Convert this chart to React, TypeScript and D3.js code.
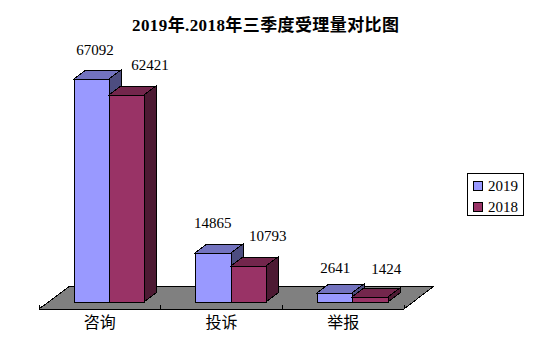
import React from "react";
import * as d3 from "d3";

const title = "2019年.2018年三季度受理量对比图";
const categories = ["咨询", "投诉", "举报"];
const seriesNames = ["2019", "2018"];
const values2019 = [67092, 14865, 2641];
const values2018 = [62421, 10793, 1424];
const seriesValues = [values2019, values2018];

const W = 533, H = 352;
const baseY = 302, frontY = 309, backY = 286;
const floorL = 39, floorR = 404, skew = 30;
const dx = 12, dy = 9, barW = 35.3, barInset = 34.7;
const fills = [
  { front: "#9999FF", top: "#7373BF", side: "#4D4D80" },
  { front: "#993366", top: "#73264C", side: "#4D1A33" },
];
const serif = "'Liberation Serif','Noto Sans CJK SC',serif";
const cjk = "'Noto Sans CJK SC','Liberation Serif',serif";
// label centre relative to each group's start, and baseline relative to each bar's top
const labelDX = [[56, 111], [52, 107], [53, 104]];
const labelDY = [[-24, -25], [-25, -25], [-20, -23]];

export default function App() {
  const x = d3.scaleBand<string>().domain(categories).range([floorL, floorR]);
  const y = d3.scaleLinear().domain([0, 67092]).range([baseY, 79]);
  const floor = d3.line()([
    [floorL, frontY], [floorR, frontY], [floorR + skew, backY], [floorL + skew + 1, backY],
  ]) + "Z";
  return (
    <svg width={W} height={H} style={{ position: "absolute", left: 0, top: 0, background: "#fff" }}>
      <text x={132} y={31} textLength={267} lengthAdjust="spacing" fontSize={17} fontWeight="bold" fontFamily={serif} fill="#000">{title}</text>
      <g shapeRendering="crispEdges">
        <path d={floor} fill="#808080" stroke="none" />
        <path d={d3.line()([[floorL + skew + 1, backY], [floorR + skew, backY]])!} stroke="#000" />
        <path d={d3.line()([[floorL, frontY], [floorR, frontY]])!} stroke="#000" />
        <path d={d3.line()([[floorR, frontY], [floorR + skew, backY]])!} stroke="#000" />
        <path d={d3.line()([[floorL, frontY], [floorL + skew + 1, backY]])!} stroke="#000" />
        {[...categories.map((c) => x(c)!), floorR].map((t, i) => (
          <line key={i} x1={t} x2={t} y1={frontY} y2={frontY - 4} stroke="#000" />
        ))}
      </g>
      <g stroke="#000" strokeLinejoin="miter" shapeRendering="crispEdges">
        {categories.map((c, ci) =>
          seriesValues.map((vals, si) => {
            const x0 = Math.round(x(c)! + barInset + si * barW);
            const x1 = Math.round(x(c)! + barInset + (si + 1) * barW);
            const t = Math.round(y(vals[ci]));
            const pts = (p: [number, number][]) => d3.line()(p) + "Z";
            return (
              <g key={c + si}>
                <path d={pts([[x1, t], [x1 + dx, t - dy], [x1 + dx, baseY - dy], [x1, baseY]])} fill={fills[si].side} />
                <path d={pts([[x0, t], [x0 + dx, t - dy], [x1 + dx, t - dy], [x1, t]])} fill={fills[si].top} />
                <rect x={x0} y={t} width={x1 - x0} height={baseY - t} fill={fills[si].front} />
              </g>
            );
          })
        )}
      </g>
      {categories.map((c, ci) =>
        seriesValues.map((vals, si) => (
          <text key={c + si} x={x(c)! + labelDX[ci][si]}
            y={y(vals[ci]) + labelDY[ci][si]} textAnchor="middle" fontSize={15} fontFamily={serif} fill="#000">
            {vals[ci]}
          </text>
        ))
      )}
      {categories.map((c) => (
        <text key={c} x={x(c)! + x.bandwidth() / 2} y={328} textAnchor="middle" fontSize={16} fontFamily={cjk} fill="#000">{c}</text>
      ))}
      <rect x={467.5} y={173.5} width={56} height={42} fill="#fff" stroke="#000" shapeRendering="crispEdges" />
      {seriesNames.map((s, i) => (
        <g key={s}>
          <rect x={473.5} y={181.5 + i * 21} width={9} height={9} fill={fills[i].front} stroke="#000" shapeRendering="crispEdges" />
          <text x={488} y={191 + i * 21} fontSize={15} fontFamily={serif} fill="#000">{s}</text>
        </g>
      ))}
    </svg>
  );
}
